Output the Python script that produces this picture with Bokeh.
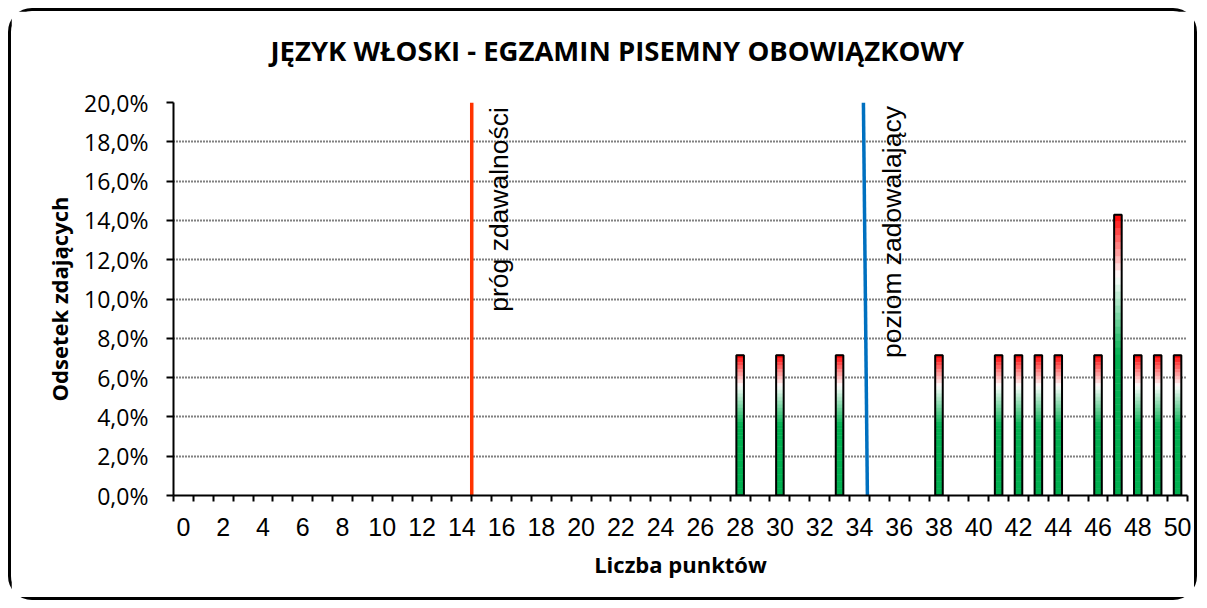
from bokeh.plotting import figure
from bokeh.models import Range1d, FixedTicker, Title
from bokeh.embed import file_html
from bokeh.resources import INLINE
from bokeh.core.properties import value

# ---------------- data ----------------
points = list(range(51))
share = [0.0, 0.0, 0.0, 0.0, 0.0, 0.0, 0.0, 0.0, 0.0, 0.0,
         0.0, 0.0, 0.0, 0.0, 0.0, 0.0, 0.0, 0.0, 0.0, 0.0,
         0.0, 0.0, 0.0, 0.0, 0.0, 0.0, 0.0, 0.0, 7.14, 0.0,
         7.14, 0.0, 0.0, 7.14, 0.0, 0.0, 0.0, 0.0, 7.14, 0.0,
         0.0, 7.14, 7.14, 7.14, 7.14, 0.0, 7.14, 14.29, 7.14, 7.14,
         7.14]
x_tick_values = list(range(0, 51, 2))
y_tick_values = [0, 2, 4, 6, 8, 10, 12, 14, 16, 18, 20]
y_tick_labels = ["0,0%", "2,0%", "4,0%", "6,0%", "8,0%", "10,0%",
                 "12,0%", "14,0%", "16,0%", "18,0%", "20,0%"]
pass_line_x = [14.5, 14.5]
pass_line_y = [0, 20]
good_line_x = [34.2, 34.4]
good_line_y = [20, 0]
title_text = "JĘZYK WŁOSKI - EGZAMIN PISEMNY OBOWIĄZKOWY"
x_title = "Liczba punktów"
y_title = "Odsetek zdających"
pass_label = "próg zdawalności"
good_label = "poziom zadowalający"

# ---------------- figure ----------------
p = figure(width=1189, height=592, output_backend="svg", toolbar_location=None,
           x_range=Range1d(-0.5, 50.5), y_range=Range1d(0, 20),
           min_border_left=162, min_border_right=13, min_border_top=91,
           min_border_bottom=108)
p.styles = {"border": "3px solid black", "border-radius": "24px",
            "margin-left": "8px", "margin-top": "8px"}
p.outline_line_color = None
p.background_fill_color = "white"
p.border_fill_color = "white"

p.title.text = ""
spacer = Title(text=" ", text_font_size="10px", standoff=21, text_color="white")
p.add_layout(spacer, "above")
main_title = Title(text=title_text, text_font="Open Sans", text_font_style="bold",
                   text_font_size="27.5px", text_color="black", align="left",
                   offset=97, standoff=0, vertical_align="bottom")
p.add_layout(main_title, "above")

# x axis
xa = p.xaxis[0]
xa.ticker = FixedTicker(ticks=x_tick_values, minor_ticks=[v - 0.5 for v in range(52)])
xa.major_tick_out = 0
xa.major_tick_in = 0
xa.minor_tick_out = 6
xa.minor_tick_in = 0
xa.minor_tick_line_color = "black"
xa.minor_tick_line_width = 2
xa.axis_line_color = "black"
xa.axis_line_width = 2
xa.major_label_text_font = "Liberation Sans"
xa.major_label_text_font_size = "25px"
xa.major_label_text_color = "black"
xa.major_label_standoff = 16
xa.axis_label = x_title
xa.axis_label_text_font = "Open Sans"
xa.axis_label_text_font_style = "bold"
xa.axis_label_text_font_size = "22px"
xa.axis_label_text_color = "black"
xa.axis_label_standoff = 10

# y axis
ya = p.yaxis[0]
ya.ticker = FixedTicker(ticks=y_tick_values)
ya.major_label_overrides = {v: s for v, s in zip(y_tick_values, y_tick_labels)}
ya.major_tick_out = 7
ya.major_tick_in = 0
ya.minor_tick_out = 0
ya.minor_tick_in = 0
ya.major_tick_line_color = "black"
ya.major_tick_line_width = 2
ya.axis_line_color = "black"
ya.axis_line_width = 2
ya.major_label_text_font = "Open Sans"
ya.major_label_text_font_size = "23px"
ya.major_label_text_color = "black"
ya.major_label_standoff = 18
ya.axis_label = y_title
ya.axis_label_text_font = "Open Sans"
ya.axis_label_text_font_style = "bold"
ya.axis_label_text_font_size = "22px"
ya.axis_label_text_color = "black"
ya.axis_label_standoff = 7

p.xgrid.grid_line_color = None
p.ygrid.ticker = FixedTicker(ticks=y_tick_values[1:])
p.ygrid.grid_line_color = "black"
p.ygrid.grid_line_dash = "1 2"
p.ygrid.grid_line_width = 2

# ---------------- gradient bars ----------------
stops = [(0.0, (255, 0, 0)), (0.22, (255, 255, 255)), (0.5, (0, 176, 80)), (1.0, (0, 176, 80))]


def grad_color(t):
    for (t0, c0), (t1, c1) in zip(stops[:-1], stops[1:]):
        if t0 <= t <= t1:
            f = (t - t0) / (t1 - t0) if t1 > t0 else 0
            c = [round(a + (b - a) * f) for a, b in zip(c0, c1)]
            return "#%02x%02x%02x" % tuple(c)
    return "#%02x%02x%02x" % stops[-1][1]


N = 40
sx, stop_, sbot, scol = [], [], [], []
bx, btop = [], []
for x, v in zip(points, share):
    if v <= 0:
        continue
    bx.append(x)
    btop.append(v)
    for k in range(N):
        t = (k + 0.5) / N
        sx.append(x)
        stop_.append(v * (1 - k / N))
        sbot.append(v * (1 - (k + 1) / N))
        scol.append(grad_color(t))

p.vbar(x=sx, width=0.38, top=stop_, bottom=sbot, fill_color=scol,
       line_color=scol, line_width=0.6)
p.vbar(x=bx, width=0.38, top=btop, bottom=0, fill_color=None,
       line_color="black", line_width=2)

# ---------------- reference lines ----------------
p.line(pass_line_x, pass_line_y, line_color="#FF3300", line_width=3.5)
p.line(good_line_x, good_line_y, line_color="#0070C0", line_width=3.5)

p.text(x=[15.1], y=[9.35], text=[pass_label], angle=1.5708,
       text_font=value("Liberation Sans"), text_font_size="26.5px",
       text_color="black", text_align="left", text_baseline="top")
p.text(x=[34.9], y=[7.0], text=[good_label], angle=1.5708,
       text_font=value("Liberation Sans"), text_font_size="26.5px",
       text_color="black", text_align="left", text_baseline="top")

open("out.html", "w").write(file_html(p, INLINE))
